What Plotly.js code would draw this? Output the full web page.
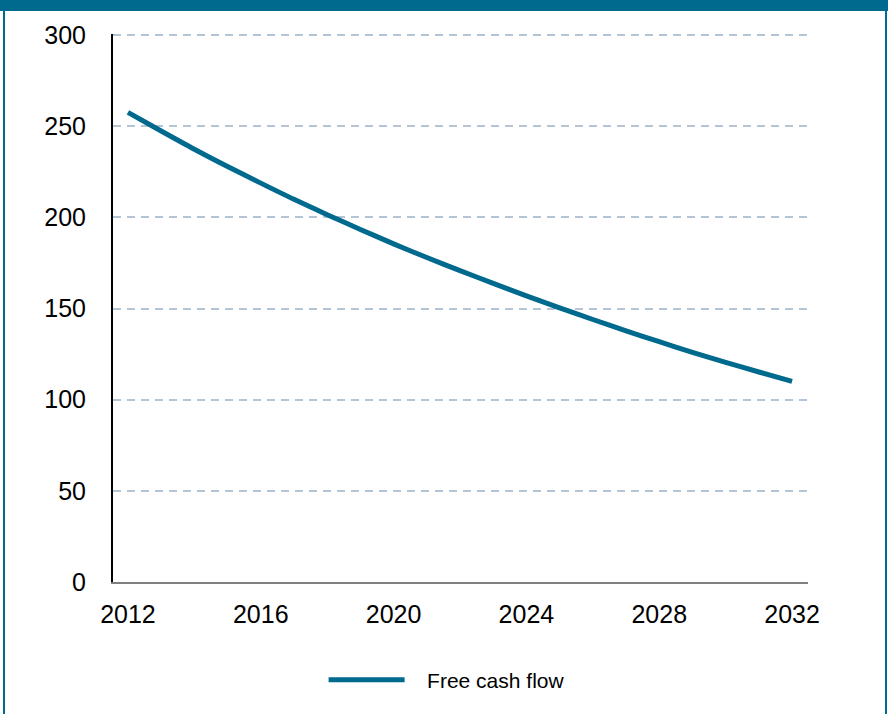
<!DOCTYPE html>
<html>
<head>
<meta charset="utf-8">
<script src="https://cdn.plot.ly/plotly-3.0.1.min.js"></script>
<style>
html,body{margin:0;padding:0;background:#fff;}
#wrap{position:relative;width:888px;height:714px;overflow:hidden;}
#chart{position:absolute;left:0;top:0;width:888px;height:714px;}
.band{position:absolute;left:0;top:0;width:888px;height:11px;background:#006a8e;}
.lb{position:absolute;left:3px;top:0;width:2px;height:714px;background:#006a8e;}
.rb{position:absolute;left:885px;top:0;width:2px;height:714px;background:#006a8e;}
</style>
</head>
<body>
<div id="wrap">
<div id="chart"></div>
<div class="band"></div><div class="lb"></div><div class="rb"></div>
</div>
<script>
const years = [2012,2013,2014,2015,2016,2017,2018,2019,2020,2021,2022,2023,2024,2025,2026,2027,2028,2029,2030,2031,2032];
const freeCashFlow = [257.6,247.4,237.4,227.9,218.8,209.9,201.5,193.4,185.5,178.0,170.8,163.8,157.0,150.4,144.0,137.8,131.8,126.0,120.5,115.2,110.1];
const xTicks = [2012,2016,2020,2024,2028,2032];
const yTicks = [0,50,100,150,200,250,300];
const seriesName = 'Free cash flow';

const teal = '#006a8e';
const data = [{
  x: years, y: freeCashFlow, type: 'scatter', mode: 'lines',
  name: '\u00a0\u00a0\u00a0' + seriesName,
  line: {color: teal, width: 5, shape: 'spline', smoothing: 0.8}
}];
const layout = {
  width: 888, height: 714,
  margin: {l: 113, r: 80, t: 34, b: 132},
  paper_bgcolor: '#fff', plot_bgcolor: '#fff',
  font: {family: 'Liberation Sans, Arial, sans-serif', color: '#000'},
  showlegend: true,
  legend: {orientation: 'h', x: 0.48, xanchor: 'center', y: -0.179, yanchor: 'middle',
           font: {size: 21, color: '#000'}, itemwidth: 76},
  xaxis: {
    range: [2011.55, 2032.48], tickvals: xTicks, ticktext: xTicks.map(String),
    showgrid: false, zeroline: false, showline: true, linecolor: '#808080', linewidth: 2,
    ticks: 'outside', ticklen: 9, tickcolor: 'rgba(0,0,0,0)',
    tickfont: {size: 25, color: '#000'}
  },
  yaxis: {
    range: [0, 300.6], tickvals: yTicks, ticktext: yTicks.map(String),
    showgrid: true, gridcolor: '#b4c6d5', gridwidth: 2, griddash: '8px,6px',
    zeroline: false, showline: true, linecolor: '#000', linewidth: 2,
    ticks: 'outside', ticklen: 20, tickcolor: 'rgba(0,0,0,0)',
    tickfont: {size: 25, color: '#000'}
  }
};
Plotly.newPlot('chart', data, layout, {displayModeBar: false, staticPlot: true});
</script>
</body>
</html>
